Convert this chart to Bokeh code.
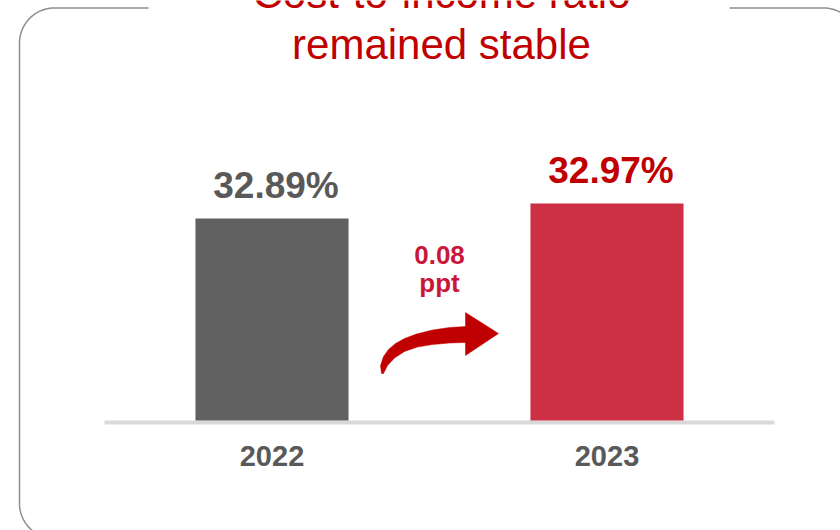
import numpy as np
from bokeh.plotting import figure
from bokeh.models import Range1d
from bokeh.core.properties import value
from bokeh.embed import file_html
from bokeh.resources import INLINE

# ---- data ----
years = ["2022", "2023"]
ratios = [32.89, 32.97]
value_labels = ["32.89%", "32.97%"]
bar_colors = ["#616161", "#CD2F44"]
label_colors = ["#595959", "#C00000"]
change_text = ["0.08", "ppt"]
title_lines = ["Cost-to-income ratio", "remained stable"]

W, H = 840, 530
FONT = "Liberation Sans"

# value axis does not start at zero (as in the source slide)
y_base = 31.8127
px_per_unit_y = 187.5
baseline_px = 420
y_top = y_base + baseline_px / px_per_unit_y
y_bot = y_base - (H - baseline_px) / px_per_unit_y
px_per_cat = 335.0
x0_px = 271.5
x_start = -x0_px / px_per_cat
x_end = (W - x0_px) / px_per_cat

p = figure(width=W, height=H, output_backend="svg", toolbar_location=None,
           x_range=Range1d(x_start, x_end), y_range=Range1d(y_bot, y_top),
           min_border=0, min_border_left=0, min_border_right=0,
           min_border_top=0, min_border_bottom=0)
p.extra_x_ranges["px"] = Range1d(0, W)
p.extra_y_ranges["px"] = Range1d(H, 0)
p.axis.visible = False
p.grid.visible = False
p.outline_line_color = None
p.background_fill_color = "white"
p.border_fill_color = "white"

xs = np.arange(len(years))

# ---- rounded border with gap for the title ----
L, T, R, B, r = 19.0, 7.5, 858.0, 538.0, 35.0
def arc(cx, cy, a0, a1, n=24):
    t = np.linspace(np.radians(a0), np.radians(a1), n)
    return cx + r * np.cos(t), cy - r * np.sin(t)
bx, by = [729.0], [T]
for (cx, cy, a0, a1) in [(R - r, T + r, 90, 0), (R - r, B - r, 0, -90),
                         (L + r, B - r, -90, -180), (L + r, T + r, 180, 90)]:
    ax_, ay_ = arc(cx, cy, a0, a1)
    bx += list(ax_); by += list(ay_)
bx.append(148.0); by.append(T)
p.line(bx, by, line_color="#8f8f8f", line_width=1.5,
       x_range_name="px", y_range_name="px")

# ---- title (top line is clipped by the slide edge, as in the source) ----
p.text(x=[441, 441], y=[-7, 44], text=title_lines, x_range_name="px", y_range_name="px",
       text_font=value(FONT), text_font_size="42px", text_color="#C00000",
       text_align="center", text_baseline="alphabetic")

# ---- baseline ----
p.segment(x0=[xs[0] - 0.5], x1=[xs[-1] + 0.5], y0=[422], y1=[422], y_range_name="px",
          line_color="#d9d9d9", line_width=4)

# ---- bars ----
p.vbar(x=xs, top=ratios, bottom=y_base, width=0.457, color=bar_colors, line_color=None)

# ---- value labels ----
p.text(x=xs, y=ratios, text=value_labels, x_offset=4, y_offset=-33,
       text_font=value(FONT), text_font_size="37px", text_font_style="bold",
       text_color=label_colors, text_align="center", text_baseline="alphabetic")

# ---- year labels ----
p.text(x=xs, y=[455, 455], text=years, y_range_name="px",
       text_font=value(FONT), text_font_size="29px", text_font_style="bold",
       text_color="#595959", text_align="center", text_baseline="alphabetic")

# ---- change annotation ----
p.text(x=[439, 439], y=[254.5, 282.5], text=change_text, x_range_name="px", y_range_name="px",
       text_font=value(FONT), text_font_size="26px", text_font_style="bold",
       text_color="#C8173A", text_align="center", text_baseline="alphabetic")

arrow_x = [381, 380, 383, 388, 395, 404, 416, 432, 449, 465,
           465, 498, 465,
           465, 449, 432, 417, 404, 394, 387, 383]
arrow_y = [373, 365, 356, 349, 343, 338, 333.5, 329.5, 327, 326,
           312, 333, 355,
           342, 342.5, 344, 346.5, 351, 357.5, 365, 373]
p.patch(arrow_x, arrow_y, fill_color="#C00000", line_color="#C00000", line_width=0.5,
        x_range_name="px", y_range_name="px")

open("out.html", "w").write(file_html(p, INLINE))
